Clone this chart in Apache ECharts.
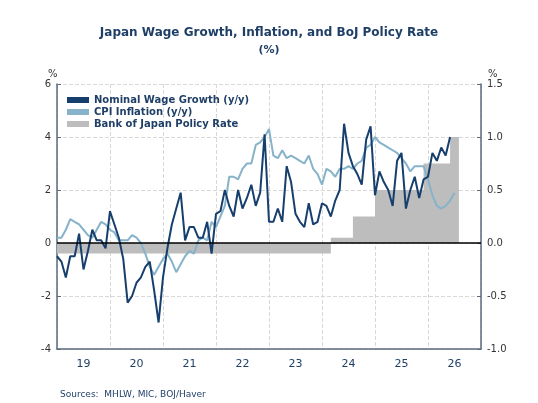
<!DOCTYPE html>
<html><head><meta charset="utf-8">
<script src="https://cdn.jsdelivr.net/npm/echarts@6/dist/echarts.min.js"></script>
<style>html,body{margin:0;padding:0;background:#fff}#c{width:538px;height:403px}</style>
</head><body><div id="c"></div>
<script>
const years = ['19','20','21','22','23','24','25','26'];
const leftTicks = [-4,-2,0,2,4,6];
// monthly from Jan 2019 (index 0)
const wage = [-0.5,-0.7,-1.3,-0.5,-0.5,0.35,-1.0,-0.3,0.5,0.1,0.1,-0.2,1.2,0.7,0.2,-0.6,-2.25,-2.0,-1.5,-1.3,-0.9,-0.7,-1.8,-3.0,-1.3,-0.2,0.7,1.3,1.9,0.1,0.6,0.6,0.2,0.2,0.8,-0.4,1.1,1.2,2.0,1.4,1.0,2.0,1.3,1.7,2.2,1.4,1.9,4.1,0.8,0.8,1.3,0.8,2.9,2.3,1.1,0.8,0.6,1.5,0.7,0.8,1.5,1.4,1.0,1.6,2.0,4.5,3.4,2.9,2.6,2.2,3.9,4.4,1.8,2.7,2.3,2.0,1.4,3.1,3.4,1.3,2.0,2.5,1.7,2.4,2.5,3.4,3.1,3.6,3.3,4.0];
const cpi = [0.2,0.2,0.5,0.9,0.8,0.7,0.5,0.3,0.2,0.5,0.8,0.7,0.5,0.4,0.1,0.1,0.1,0.3,0.2,0.0,-0.4,-0.9,-1.2,-0.9,-0.6,-0.4,-0.7,-1.1,-0.8,-0.5,-0.3,-0.4,0.1,0.2,0.1,0.8,0.6,1.0,1.4,2.5,2.5,2.4,2.8,3.0,3.0,3.7,3.8,4.0,4.3,3.3,3.2,3.5,3.2,3.3,3.2,3.1,3.0,3.3,2.8,2.6,2.2,2.8,2.7,2.5,2.8,2.8,2.9,2.8,3.0,3.1,3.6,3.7,4.0,3.8,3.7,3.6,3.5,3.4,3.2,3.0,2.7,2.9,2.9,2.9,2.4,1.8,1.4,1.3,1.4,1.6,1.9];
// policy rate steps: [start month, rate]
const policyMonths = [0,62,67,72,83,89,91];
const policyRates  = [-0.1,0.05,0.25,0.5,0.75,1.0,1.0];

const F = 'DejaVu Sans, Verdana, sans-serif';
const ax = '#5b6b7d';
const chart = echarts.init(document.getElementById('c'));
chart.setOption({
  animation:false,
  title:[
    {text:'Japan Wage Growth, Inflation, and BoJ Policy Rate',left:'center',top:22,textStyle:{fontFamily:F,fontSize:12,fontWeight:'bold',color:'#1f3f66'}},
    {text:'(%)',left:'center',top:40,textStyle:{fontFamily:F,fontSize:11,fontWeight:'bold',color:'#1f3f66'}},
    {text:'%',left:43,top:64,textStyle:{fontFamily:F,fontSize:10,fontWeight:'normal',color:'#333'}},
    {text:'%',left:483,top:64,textStyle:{fontFamily:F,fontSize:10,fontWeight:'normal',color:'#333'}},
    {text:'Sources:  MHLW, MIC, BOJ/Haver',left:55,top:385,textStyle:{fontFamily:F,fontSize:9,fontWeight:'normal',color:'#1f3f66'}}
  ],
  legend:{orient:'vertical',left:62,top:90,itemGap:2,itemWidth:22,itemHeight:6,
    textStyle:{fontFamily:F,fontSize:10,fontWeight:'bold',color:'#1f3f66'},
    data:[{name:'Nominal Wage Growth (y/y)',icon:'rect'},{name:'CPI Inflation (y/y)',icon:'rect'},{name:'Bank of Japan Policy Rate',icon:'rect'}]},
  grid:{left:57,right:57,top:84,bottom:54},
  xAxis:[
    {type:'value',min:0,max:96,interval:12,axisLabel:{show:false},axisTick:{show:false},axisLine:{show:false},
     splitLine:{show:true,lineStyle:{color:'#d8d8d8',type:'dashed'}}},
    {type:'category',data:years,position:'bottom',boundaryGap:true,
     axisLine:{onZero:false,lineStyle:{color:ax,width:1.5}},axisTick:{length:8,lineStyle:{color:ax,width:1.5}},
     axisLabel:{color:'#1f3f66',fontFamily:F,fontSize:11,margin:10},splitLine:{show:false}}
  ],
  yAxis:[
    {type:'value',min:-4,max:6,interval:2,axisLine:{show:true,lineStyle:{color:ax,width:1.5}},axisTick:{show:true,inside:true,length:4,lineStyle:{color:ax}},
     axisLabel:{color:'#333',fontFamily:F,fontSize:10,margin:6},splitLine:{lineStyle:{color:'#d8d8d8',type:'dashed'}}},
    {type:'value',min:-1,max:1.5,interval:0.5,axisLine:{show:true,lineStyle:{color:ax,width:1.5}},axisTick:{show:true,inside:true,length:4,lineStyle:{color:ax}},
     axisLabel:{color:'#333',fontFamily:F,fontSize:10,margin:6,formatter:v=>v.toFixed(1)},splitLine:{show:false}}
  ],
  series:[
    {name:'Bank of Japan Policy Rate',type:'line',yAxisIndex:1,step:'end',symbol:'none',color:'#bdbdbd',
     lineStyle:{width:0},areaStyle:{color:'#bdbdbd',opacity:1},
     data:policyMonths.map((m,i)=>[m,policyRates[i]]),z:1,
     markLine:{silent:true,symbol:'none',label:{show:false},lineStyle:{color:'#000',width:1.5,type:'solid'},data:[{yAxis:0}]}},
    {name:'CPI Inflation (y/y)',type:'line',symbol:'none',color:'#86b3c9',lineStyle:{width:2},data:cpi.map((v,i)=>[i,v]),z:3},
    {name:'Nominal Wage Growth (y/y)',type:'line',symbol:'none',color:'#173f6d',lineStyle:{width:2},data:wage.map((v,i)=>[i,v]),z:4}
  ]
});
</script></body></html>
